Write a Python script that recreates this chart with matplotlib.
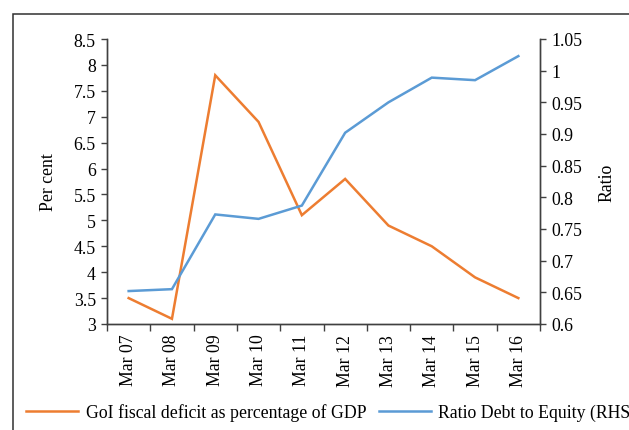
import matplotlib
matplotlib.use("Agg")
import matplotlib.pyplot as plt
from matplotlib.patches import Rectangle
from matplotlib.lines import Line2D

plt.rcParams['font.family'] = ['Liberation Serif', 'DejaVu Serif']

categories = ["Mar 07", "Mar 08", "Mar 09", "Mar 10", "Mar 11",
              "Mar 12", "Mar 13", "Mar 14", "Mar 15", "Mar 16"]
fiscal_deficit = [3.5, 3.1, 7.8, 6.9, 5.1, 5.8, 4.9, 4.5, 3.9, 3.5]
debt_equity = [0.652, 0.655, 0.773, 0.766, 0.787, 0.902, 0.950, 0.989, 0.985, 1.023]
left_ticks = [3, 3.5, 4, 4.5, 5, 5.5, 6, 6.5, 7, 7.5, 8, 8.5]
right_ticks = [0.6, 0.65, 0.7, 0.75, 0.8, 0.85, 0.9, 0.95, 1.0, 1.05]

ORANGE = "#ED7D31"
BLUE = "#5B9BD5"
SPINE = "#404040"
FS = 12.8

fig = plt.figure(figsize=(6.29, 4.31), dpi=100)
ax = fig.add_axes([107/629, 1-325/431, 433/629, 285/431])
ax2 = ax.twinx()

x = list(range(len(categories)))
ax.plot(x, fiscal_deficit, color=ORANGE, lw=1.8, solid_joinstyle='miter')
ax2.plot(x, debt_equity, color=BLUE, lw=1.8, solid_joinstyle='miter')

ax.set_xlim(-0.5, len(categories) - 0.5)
ax.set_ylim(3, 8.5)
ax2.set_ylim(0.6, 1.05)

ax.set_yticks(left_ticks)
ax.set_yticklabels([f"{v:g}" for v in left_ticks])
ax2.set_yticks(right_ticks)
ax2.set_yticklabels([f"{v:g}" for v in right_ticks])

# category labels centred, tick marks on category boundaries
ax.set_xticks(x)
ax.set_xticklabels(categories, rotation=90, fontsize=FS)
ax.set_xticks([i - 0.5 for i in range(len(categories) + 1)], minor=True)
ax.tick_params(axis='x', which='major', length=0, pad=7)
ax.tick_params(axis='x', which='minor', length=5, width=1, color=SPINE)
ax.tick_params(axis='y', length=4, width=1, color=SPINE, labelsize=FS, pad=4)
ax2.tick_params(axis='y', length=4, width=1, color=SPINE, labelsize=FS, pad=4)

for a in (ax, ax2):
    a.spines['top'].set_visible(False)
    for s in ('left', 'right', 'bottom'):
        a.spines[s].set_color(SPINE)
        a.spines[s].set_linewidth(1.0)

ax.set_ylabel("Per cent", fontsize=FS, labelpad=12)
ax2.set_ylabel("Ratio", fontsize=FS, labelpad=12)

# outer frame
fig.patches.append(Rectangle((13/629, -0.5), 2.0, 0.5 + 1 - 14.5/431,
                             transform=fig.transFigure, fill=False,
                             edgecolor="#303030", lw=1.1, clip_on=False))

handles = [Line2D([], [], color=ORANGE, lw=1.8),
           Line2D([], [], color=BLUE, lw=1.8)]
labels = ["GoI fiscal deficit as percentage of GDP", "Ratio Debt to Equity (RHS)"]
fig.legend(handles, labels, loc='center left', bbox_to_anchor=(26/629, 1-413/431),
           ncol=2, frameon=False, fontsize=FS, handlelength=2.95,
           handletextpad=0.4, columnspacing=0.7, borderpad=0, borderaxespad=0)

fig.savefig("out.png", dpi=100)
